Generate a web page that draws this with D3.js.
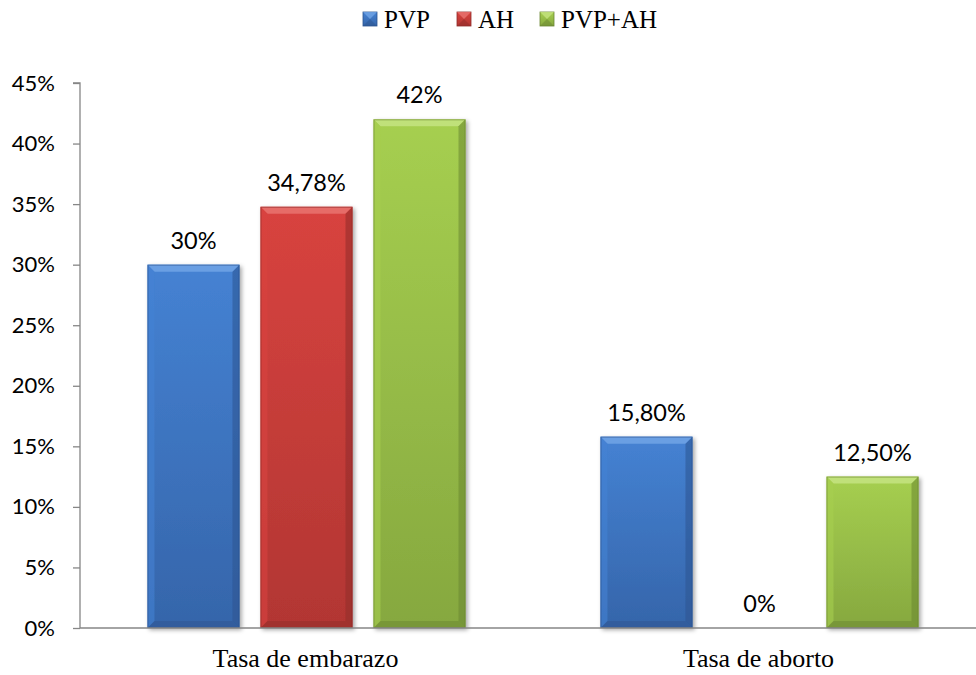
<!DOCTYPE html>
<html>
<head>
<meta charset="utf-8">
<script src="https://cdn.jsdelivr.net/npm/d3@7"></script>
<style>
  html, body { margin: 0; padding: 0; background: #fff; }
  svg { display: block; }
  .serif { font-family: "Liberation Serif", "Times New Roman", "DejaVu Serif", serif; }
  .sans { font-family: Lato, "Open Sans", sans-serif; }
</style>
</head>
<body>
<svg id="chart" width="976" height="675"></svg>
<script>
// Categories, series and values
const categories = ["Tasa de embarazo", "Tasa de aborto"];
const series = ["PVP", "AH", "PVP+AH"];
const pvp = [30, 15.8];
const ah = [34.78, 0];
const pvpAh = [42, 12.5];
const valueLabels = [["30%", "15,80%"], ["34,78%", "0%"], ["42%", "12,50%"]];
const yTicks = [0, 5, 10, 15, 20, 25, 30, 35, 40, 45];
const seriesValues = [pvp, ah, pvpAh];

const palette = {
  "PVP":    { light: "#6fa2e4", mid: "#4582d3", dark: "#3565aa", edge: "#2c5490" },
  "AH":     { light: "#e8716d", mid: "#d8433f", dark: "#b23633", edge: "#8f2b2a" },
  "PVP+AH": { light: "#c3e27e", mid: "#a6cf50", dark: "#86a83f", edge: "#6a8632" }
};

const svg = d3.select("#chart");
const margin = { left: 80, right: -10, top: 83, bottom: 47 };
const W = 976, H = 675;

const x0 = d3.scaleBand().domain(categories).range([margin.left, W - margin.right]).paddingInner(0).paddingOuter(0);
const outer = 67.5;
const x1 = d3.scaleBand().domain(series).range([outer, x0.bandwidth() - outer]).paddingInner(0.186).paddingOuter(0);
const y = d3.scaleLinear().domain([0, 45]).range([H - margin.bottom, margin.top]);

const defs = svg.append("defs");
series.forEach((s, i) => {
  const c = palette[s];
  const g = defs.append("linearGradient").attr("id", "grad" + i)
    .attr("x1", 0).attr("y1", 0).attr("x2", 0).attr("y2", 1);
  g.append("stop").attr("offset", "0%").attr("stop-color", c.mid);
  g.append("stop").attr("offset", "100%").attr("stop-color", c.dark);
});
const f = defs.append("filter").attr("id", "shadow")
  .attr("x", "-10%").attr("y", "-10%").attr("width", "130%").attr("height", "130%");
f.append("feDropShadow").attr("dx", 2).attr("dy", 2).attr("stdDeviation", 2)
  .attr("flood-color", "#000").attr("flood-opacity", 0.35);

// Y axis
const yAxis = d3.axisLeft(y).tickValues(yTicks).tickFormat(d => d + "%").tickSize(7).tickPadding(18);
const yg = svg.append("g").attr("transform", `translate(${margin.left},0)`).call(yAxis);
yg.attr("font-family", null).attr("font-size", null);
yg.select(".domain").attr("stroke", "#868686").attr("stroke-width", 1.3).attr("d", `M-7,${y(45)}H0V${y(0)}`);
yg.selectAll(".tick line").attr("stroke", "#868686").attr("stroke-width", 1.3);
yg.selectAll(".tick text").attr("class", "sans").style("font-size", "22px").attr("fill", "#000");

// Bars
const bevel = 7;
series.forEach((s, i) => {
  const c = palette[s];
  const g = svg.append("g");
  categories.forEach((cat, j) => {
    const v = seriesValues[i][j];
    const bx = x0(cat) + x1(s);
    const bw = x1.bandwidth();
    const by = y(v);
    const bh = y(0) - y(v);
    if (bh > 0.5) {
      const bar = g.append("g").attr("filter", "url(#shadow)");
      bar.append("rect").attr("x", bx).attr("y", by).attr("width", bw).attr("height", bh)
        .attr("fill", `url(#grad${i})`);
      const b = Math.min(bevel, bh / 2);
      // top bevel
      bar.append("polygon").attr("points", [[bx, by], [bx + bw, by], [bx + bw - b, by + b], [bx + b, by + b]].join(" "))
        .attr("fill", c.light).attr("opacity", 0.9);
      // left bevel
      bar.append("polygon").attr("points", [[bx, by], [bx + b, by + b], [bx + b, by + bh - b], [bx, by + bh]].join(" "))
        .attr("fill", c.mid).attr("opacity", 0.6);
      // right bevel
      bar.append("polygon").attr("points", [[bx + bw, by], [bx + bw, by + bh], [bx + bw - b, by + bh - b], [bx + bw - b, by + b]].join(" "))
        .attr("fill", c.edge).attr("opacity", 0.55);
      // bottom bevel
      bar.append("polygon").attr("points", [[bx, by + bh], [bx + b, by + bh - b], [bx + bw - b, by + bh - b], [bx + bw, by + bh]].join(" "))
        .attr("fill", c.edge).attr("opacity", 0.5);
      bar.append("rect").attr("x", bx + 0.5).attr("y", by + 0.5).attr("width", bw - 1).attr("height", bh - 1)
        .attr("fill", "none").attr("stroke", c.edge).attr("stroke-width", 1).attr("opacity", 0.6);
    }
    svg.append("text")
      .attr("class", "sans")
      .attr("x", bx + bw / 2).attr("y", y(v) - 16)
      .attr("text-anchor", "middle")
      .style("font-size", "23.5px").attr("fill", "#000")
      .text(valueLabels[i][j]);
  });
});

// X axis line
svg.append("line").attr("x1", margin.left).attr("x2", W).attr("y1", y(0)).attr("y2", y(0))
  .attr("stroke", "#868686").attr("stroke-width", 1.3);

// Category labels
categories.forEach(cat => {
  svg.append("text")
    .attr("class", "serif")
    .attr("x", x0(cat) + x0.bandwidth() / 2 - 1).attr("y", 667)
    .attr("text-anchor", "middle")
    .style("font-size", "26px").attr("fill", "#000")
    .text(cat);
});

// Legend
const legendX = [363, 457, 540];
const legend = svg.append("g");
series.forEach((s, i) => {
  const c = palette[s];
  const lx = legendX[i], ly = 12, sz = 14;
  const lg = legend.append("g");
  lg.append("rect").attr("x", lx).attr("y", ly).attr("width", sz).attr("height", sz).attr("fill", `url(#grad${i})`)
    .attr("stroke", c.edge).attr("stroke-width", 0.8);
  lg.append("polygon").attr("points", [[lx, ly], [lx + sz, ly], [lx + sz / 2, ly + sz / 2]].join(" "))
    .attr("fill", c.light).attr("opacity", 0.85);
  lg.append("polygon").attr("points", [[lx, ly + sz], [lx + sz, ly + sz], [lx + sz / 2, ly + sz / 2]].join(" "))
    .attr("fill", c.edge).attr("opacity", 0.5);
  lg.append("text").attr("class", "serif").attr("x", lx + sz + 7).attr("y", 28)
    .style("font-size", "25px").attr("fill", "#000")
    .text(s);
});
</script>
</body>
</html>
